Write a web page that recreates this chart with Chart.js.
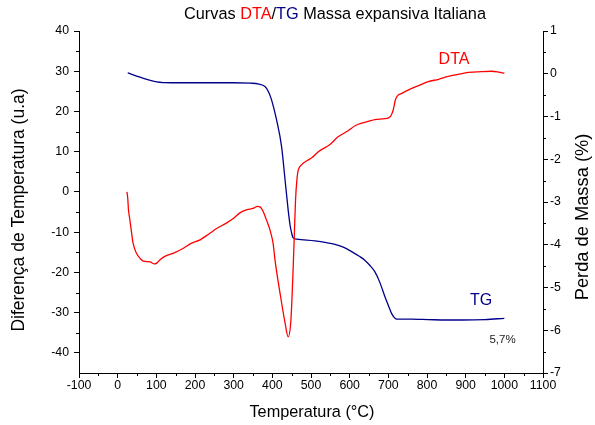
<!DOCTYPE html>
<html>
<head>
<meta charset="utf-8">
<script src="https://cdn.jsdelivr.net/npm/chart.js@4.4.1/dist/chart.umd.min.js"></script>
<style>
  html, body { margin: 0; padding: 0; background: #fff; }
  #wrap { width: 595px; height: 425px; position: relative; }
</style>
</head>
<body>
<div id="wrap"><canvas id="chart" width="595" height="425"></canvas></div>
<script>
// DTA curve (left axis, u.a)
const dtaTemp = [24, 26, 28, 31, 34, 40, 49, 58, 66, 84, 95, 101, 109, 122, 145, 170, 190, 213, 235, 256,
  280, 299, 316, 335, 350, 362, 368, 375, 385, 394, 402, 407, 420, 433, 441, 448, 454, 457, 460, 464,
  467, 476, 490, 502, 519, 549, 570, 596, 615, 631, 650, 665, 690, 700, 707, 713, 718, 723, 735, 751,
  775, 803, 830, 855, 880, 907, 940, 967, 985, 1000];
const dtaValues = [0, -1.5, -4.5, -6.5, -8.7, -12.8, -15.3, -16.5, -17.2, -17.4, -17.9, -17.7, -16.9, -16.0, -15.2, -14.0, -12.8, -11.9, -10.5, -9.1,
  -7.8, -6.6, -5.2, -4.4, -4.1, -3.6, -3.7, -4.6, -7.0, -9.5, -12.8, -17.0, -25.2, -32.6, -36.0, -31.9, -18.6, -10.3, -2.0, 3.5,
  5.4, 6.8, 7.8, 8.5, 10.0, 11.8, 13.7, 15.2, 16.5, 17.1, 17.6, 18.0, 18.2, 18.4, 19.0, 20.5, 22.8, 23.8, 24.5, 25.3,
  26.3, 27.4, 28.0, 28.7, 29.2, 29.7, 29.9, 30.0, 29.8, 29.5];

// TG curve (right axis, %)
const tgTemp = [26, 58, 101, 140, 200, 300, 342, 365, 381, 390, 398, 411, 424, 433, 441, 446, 450, 454, 463, 510,
  540, 562, 585, 605, 625, 639, 652, 665, 678, 691, 700, 708, 715, 721, 760, 803, 850, 890, 950, 1000];
const tgValues = [0.02, -0.08, -0.19, -0.21, -0.21, -0.21, -0.22, -0.24, -0.30, -0.42, -0.61, -1.08, -1.71, -2.49, -3.19, -3.55, -3.73, -3.84, -3.87, -3.91,
  -3.95, -3.99, -4.06, -4.16, -4.27, -4.36, -4.48, -4.63, -4.88, -5.21, -5.42, -5.60, -5.70, -5.74, -5.74, -5.75, -5.76, -5.76, -5.75, -5.72];

const xTicks = [-100, 0, 100, 200, 300, 400, 500, 600, 700, 800, 900, 1000, 1100];
const leftTicks = [-40, -30, -20, -10, 0, 10, 20, 30, 40];
const rightTicks = [-7, -6, -5, -4, -3, -2, -1, 0, 1];

const FONT = 'Arial, "Liberation Sans", sans-serif';
const RED = '#ff0000';
const BLUE = '#00008b';

const toPoints = (xs, ys) => xs.map((x, i) => ({ x: x, y: ys[i] }));

// small outward minor ticks between the majors
const minorTicks = {
  id: 'minorTicks',
  afterDraw(chart) {
    const ctx = chart.ctx;
    const { x, y, y2 } = chart.scales;
    const area = chart.chartArea;
    ctx.save();
    ctx.strokeStyle = '#000';
    ctx.lineWidth = 1;
    ctx.beginPath();
    for (let v = -50; v <= 1100; v += 100) {
      const px = Math.round(x.getPixelForValue(v)) + 0.5;
      ctx.moveTo(px, area.bottom); ctx.lineTo(px, area.bottom + 3);
    }
    for (let v = -35; v <= 40; v += 10) {
      const py = Math.round(y.getPixelForValue(v)) + 0.5;
      ctx.moveTo(area.left, py); ctx.lineTo(area.left - 3, py);
    }
    for (let v = -6.5; v <= 1; v += 1) {
      const py = Math.round(y2.getPixelForValue(v)) + 0.5;
      ctx.moveTo(area.right, py); ctx.lineTo(area.right + 3, py);
    }
    ctx.stroke();
    ctx.restore();
  }
};

// title in several colours, axis titles and labels on the plot
const texts = {
  id: 'texts',
  afterDraw(chart) {
    const ctx = chart.ctx;
    ctx.save();
    ctx.textBaseline = 'middle';

    ctx.font = '16.3px ' + FONT;
    const parts = [['Curvas ', '#000'], ['DTA', RED], ['/', '#000'], ['TG', BLUE], [' Massa expansiva Italiana', '#000']];
    const total = parts.reduce((s, p) => s + ctx.measureText(p[0]).width, 0);
    let tx = 335 - total / 2;
    ctx.textAlign = 'left';
    parts.forEach(p => {
      ctx.fillStyle = p[1];
      ctx.fillText(p[0], tx, 15);
      tx += ctx.measureText(p[0]).width;
    });

    ctx.textAlign = 'center';
    ctx.fillStyle = '#000';
    ctx.fillText('Temperatura (°C)', 312, 413);

    ctx.save();
    ctx.font = '17.5px ' + FONT;
    ctx.translate(19, 210);
    ctx.rotate(-Math.PI / 2);
    ctx.fillText('Diferença de Temperatura (u.a)', 0, 0);
    ctx.restore();

    ctx.save();
    ctx.font = '18.3px ' + FONT;
    ctx.translate(583, 217);
    ctx.rotate(-Math.PI / 2);
    ctx.fillText('Perda de Massa (%)', 0, 0);
    ctx.restore();

    ctx.font = '16px ' + FONT;
    ctx.fillStyle = RED;
    ctx.fillText('DTA', 454, 60);
    ctx.fillStyle = BLUE;
    ctx.fillText('TG', 481, 301);

    ctx.font = '11.5px ' + FONT;
    ctx.fillStyle = '#222';
    ctx.fillText('5,7%', 502.5, 340);
    ctx.restore();
  }
};

const tickOpts = { color: '#000', font: { family: FONT, size: 12.3 }, autoSkip: false, maxRotation: 0, callback: v => String(v) };

new Chart(document.getElementById('chart'), {
  type: 'scatter',
  data: {
    datasets: [
      {
        label: 'DTA',
        data: toPoints(dtaTemp, dtaValues),
        yAxisID: 'y',
        showLine: true,
        borderColor: RED,
        borderWidth: 1.3,
        pointRadius: 0,
        cubicInterpolationMode: 'monotone'
      },
      {
        label: 'TG',
        data: toPoints(tgTemp, tgValues),
        yAxisID: 'y2',
        showLine: true,
        borderColor: BLUE,
        borderWidth: 1.3,
        pointRadius: 0,
        cubicInterpolationMode: 'monotone'
      }
    ]
  },
  options: {
    responsive: false,
    animation: false,
    devicePixelRatio: 1,
    layout: { padding: { top: 31, left: 0, right: 0, bottom: 0 } },
    plugins: { legend: { display: false }, title: { display: false }, tooltip: { enabled: false } },
    scales: {
      x: {
        type: 'linear',
        min: -100,
        max: 1100,
        afterBuildTicks: s => { s.ticks = xTicks.map(v => ({ value: v })); },
        afterFit: s => { s.height = 52; },
        ticks: Object.assign({}, tickOpts, { padding: 0 }),
        grid: { drawOnChartArea: false, tickLength: 5, color: '#000' },
        border: { color: '#000', width: 1 }
      },
      y: {
        position: 'left',
        min: -45,
        max: 40,
        afterBuildTicks: s => { s.ticks = leftTicks.map(v => ({ value: v })); },
        afterFit: s => { s.width = 79; },
        ticks: Object.assign({}, tickOpts, { padding: 5 }),
        grid: { drawOnChartArea: false, tickLength: 5, color: '#000' },
        border: { color: '#000', width: 1 }
      },
      y2: {
        position: 'right',
        min: -7,
        max: 1,
        afterBuildTicks: s => { s.ticks = rightTicks.map(v => ({ value: v })); },
        afterFit: s => { s.width = 52; },
        ticks: Object.assign({}, tickOpts, { padding: 2 }),
        grid: { drawOnChartArea: false, tickLength: 5, color: '#000' },
        border: { color: '#000', width: 1 }
      }
    }
  },
  plugins: [minorTicks, texts]
});
</script>
</body>
</html>
